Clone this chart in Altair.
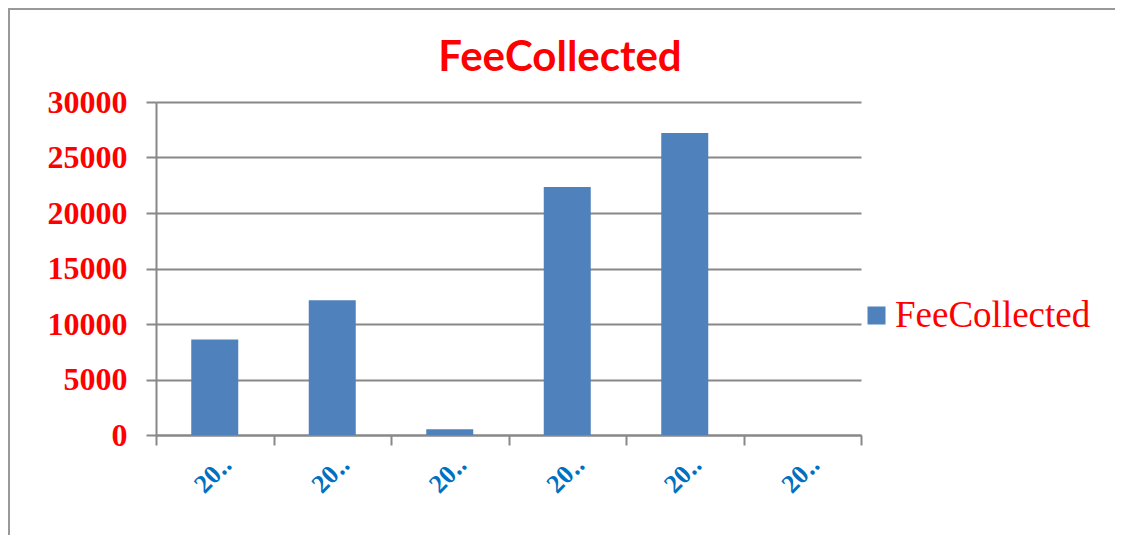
import altair as alt
import pandas as pd

categories = ["2010-11", "2011-12", "2012-13", "2013-14", "2014-15", "2015-16"]
fee_collected = [8600, 12150, 520, 22350, 27200, 0]
series_name = "FeeCollected"
chart_title = "FeeCollected"

df = pd.DataFrame({"Year": categories, "FeeCollected": fee_collected, "Series": [series_name] * len(categories)})

GRAY = "#888888"
RED = "#FF0000"
BLUE_TXT = "#0070C0"
BAR = "#4F81BD"

bars = alt.Chart(df).mark_bar(color=BAR, width=alt.RelativeBandSize(0.4)).encode(
    x=alt.X("Year:N", sort=categories, title=None,
            scale=alt.Scale(paddingInner=0, paddingOuter=0),
            axis=alt.Axis(labelAngle=-45, labelAlign="right", labelBaseline="middle",
                          labelExpr="(datum.label && length(datum.label) > 0) ? substring(datum.label, 0, 2) + '\u2025' : ''",
                          labelFont="Liberation Serif", labelFontWeight="bold", labelFontSize=26,
                          labelColor=BLUE_TXT, labelPadding=15, labelOffset=12,
                          tickBand="extent", tickSize=10, tickColor=GRAY, tickWidth=2,
                          domainColor=GRAY, domainWidth=2, grid=False)),
    y=alt.Y("FeeCollected:Q", title=None,
            scale=alt.Scale(domain=[0, 30000], nice=False),
            axis=alt.Axis(values=[0, 5000, 10000, 15000, 20000, 25000, 30000], format="d",
                          labelFont="Liberation Serif", labelFontWeight="bold", labelFontSize=32,
                          labelColor=RED, labelPadding=19, tickSize=10, tickColor=GRAY, tickWidth=2,
                          domainColor=GRAY, domainWidth=2, gridColor=GRAY, gridWidth=2)),
    color=alt.Color("Series:N", scale=alt.Scale(range=[BAR]),
                    legend=alt.Legend(title=None, orient="none", legendX=702, legendY=195,
                                      padding=0, symbolType="square", symbolSize=324,
                                      symbolStrokeWidth=0, symbolOpacity=1,
                                      labelFont="Liberation Serif", labelFontSize=37,
                                      labelColor=RED, labelOffset=0, labelLimit=400)),
)

one = alt.Data(values=[{"k": 1}])
title_mark = alt.Chart(one).mark_text(text=chart_title, font="Lato", fontSize=42, fontWeight="bold",
                                      color=RED, align="center", baseline="alphabetic").encode(
    x=alt.value(404), y=alt.value(-31))
frame_top = alt.Chart(one).mark_rule(color="#999999", strokeWidth=2).encode(
    x=alt.value(-148), x2=alt.value(959), y=alt.value(-93))
frame_left = alt.Chart(one).mark_rule(color="#999999", strokeWidth=2).encode(
    x=alt.value(-147), y=alt.value(-93), y2=alt.value(433))

chart = alt.layer(bars, title_mark, frame_top, frame_left).properties(
    width=705, height=333,
    padding={"left": 148, "top": 94, "right": 254, "bottom": 100},
    autosize=alt.AutoSizeParams(type="none"),
).configure_view(strokeWidth=0)

chart.save("out.html", embed_options={"renderer": "svg", "actions": False})
